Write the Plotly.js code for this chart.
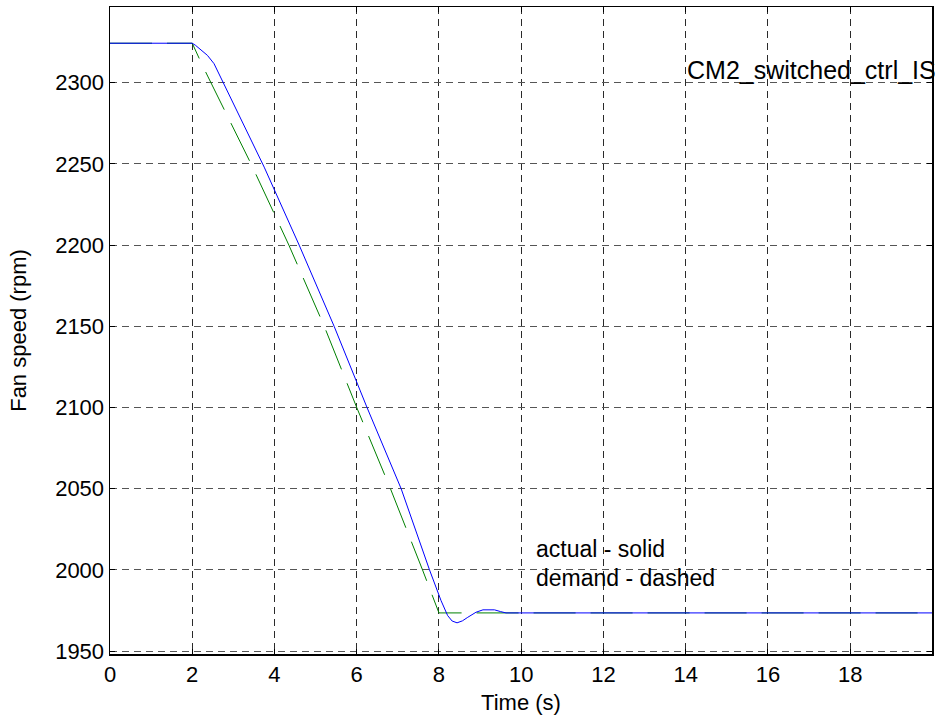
<!DOCTYPE html>
<html>
<head>
<meta charset="utf-8">
<script src="https://cdn.plot.ly/plotly-3.0.1.min.js"></script>
<style>
  html, body { margin: 0; padding: 0; background: #ffffff; }
  #chart { width: 935px; height: 725px; }
</style>
</head>
<body>
<div id="chart"></div>
<script>
// Fan speed response: demanded ramp and measured (actual) speed
const demandTime  = [0, 2, 2.25, 2.8, 3.43, 4.35, 5.21, 6.0, 6.82, 7.6, 8.0, 20];
const demandSpeed = [2324.3, 2324.3, 2310.5, 2282, 2250, 2200, 2150, 2100, 2050, 2000, 1973.5, 1973.5];

const actualTime  = [0, 2, 2.08, 2.2, 2.37, 2.53, 2.69, 2.94, 3.18, 3.42, 3.75, 4.6, 5.45, 6.25, 7.08, 7.77,
                     8.05, 8.21, 8.32, 8.44, 8.57, 8.7, 8.9, 9.07, 9.35, 9.5, 9.63, 20];
const actualSpeed = [2324.3, 2324.3, 2323.0, 2320.6, 2316.8, 2311.7, 2303.4, 2290.1, 2277.8, 2264.5, 2248.0, 2200, 2150, 2100, 2050, 2000,
                     1981.1, 1971.9, 1968.5, 1967.4, 1968.6, 1970.8, 1973.9, 1975.4, 1975.4, 1974.3, 1973.5, 1973.5];

const xTicks = [0, 2, 4, 6, 8, 10, 12, 14, 16, 18];
const yTicks = [1950, 2000, 2050, 2100, 2150, 2200, 2250, 2300];

const runName   = 'CM2_switched_ctrl_IS';
const legendTop = 'actual - solid';
const legendBot = 'demand - dashed';

const FONT = 'Liberation Sans, Arial, Helvetica, sans-serif';

const traces = [
  {
    x: demandTime, y: demandSpeed, type: 'scatter', mode: 'lines',
    line: { color: '#008000', width: 1, dash: '42px,15px' },
    hoverinfo: 'skip'
  },
  {
    x: actualTime, y: actualSpeed, type: 'scatter', mode: 'lines',
    line: { color: '#0000ff', width: 1 },
    hoverinfo: 'skip'
  }
];

const layout = {
  width: 935, height: 725,
  margin: { l: 110, r: 3, t: 7, b: 71 },
  paper_bgcolor: '#ffffff', plot_bgcolor: '#ffffff',
  showlegend: false,
  font: { family: FONT, size: 22, color: '#000000' },
  xaxis: {
    range: [0, 19.99],
    tickmode: 'array', tickvals: xTicks,
    ticks: 'inside', ticklen: 5, tickcolor: '#000', tickwidth: 1,
    showline: true, linecolor: '#000', linewidth: 1.5, mirror: 'ticks',
    showgrid: true, gridcolor: '#2a2a2a', gridwidth: 1, griddash: '7px,5px',
    zeroline: false,
    tickfont: { family: FONT, size: 22, color: '#000' },
    title: { text: 'Time (s)', font: { family: FONT, size: 22, color: '#000' }, standoff: 8 }
  },
  yaxis: {
    range: [1948.2, 2346.6],
    tickmode: 'array', tickvals: yTicks,
    ticks: 'inside', ticklen: 5, tickcolor: '#000', tickwidth: 1,
    showline: true, linecolor: '#000', linewidth: 1.5, mirror: 'ticks',
    showgrid: true, gridcolor: '#555555', gridwidth: 1, griddash: '7px,5px',
    zeroline: false,
    tickfont: { family: FONT, size: 22, color: '#000' },
    title: { text: 'Fan speed (rpm)', font: { family: FONT, size: 22, color: '#000' }, standoff: 22 }
  },
  annotations: [
    { x: 13.98, y: 2307.9, xref: 'x', yref: 'y', text: runName, showarrow: false,
      xanchor: 'left', yanchor: 'middle', font: { family: FONT, size: 25, color: '#000' } },
    { x: 10.3, y: 2013.1, xref: 'x', yref: 'y', text: legendTop, showarrow: false,
      xanchor: 'left', yanchor: 'middle', font: { family: FONT, size: 23, color: '#000' } },
    { x: 10.3, y: 1994.9, xref: 'x', yref: 'y', text: legendBot, showarrow: false,
      xanchor: 'left', yanchor: 'middle', font: { family: FONT, size: 23, color: '#000' } }
  ]
};

Plotly.newPlot('chart', traces, layout, { staticPlot: true, displayModeBar: false });
</script>
</body>
</html>
